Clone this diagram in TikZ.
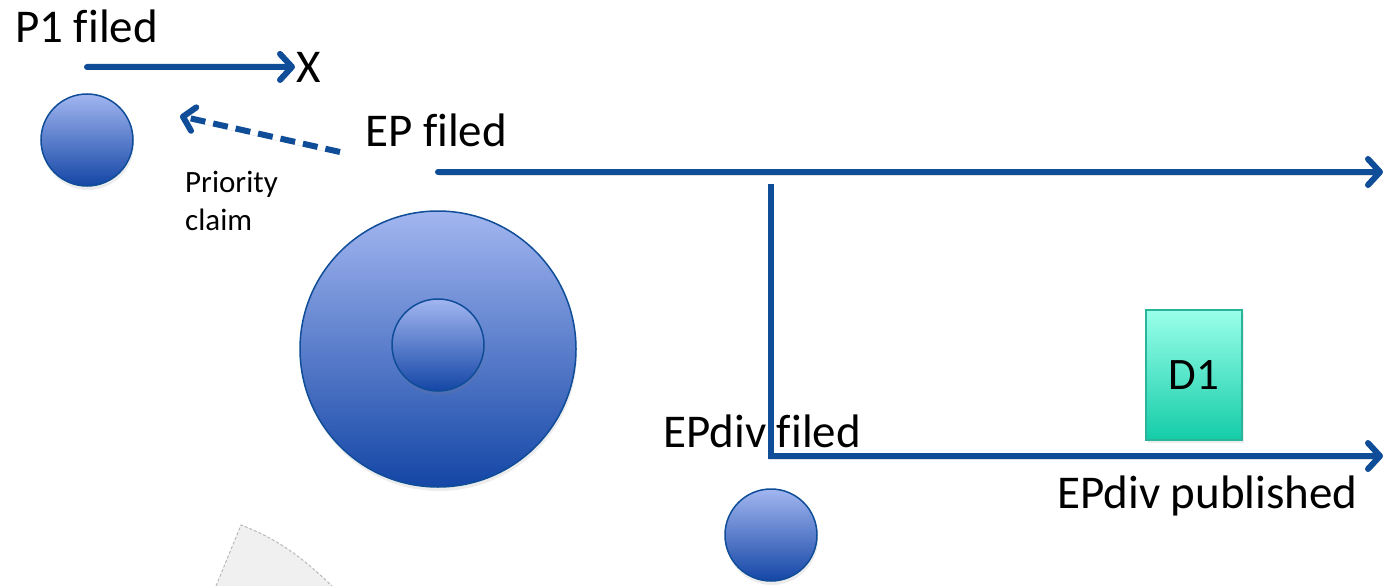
\documentclass[tikz,border=0pt]{standalone}
\usepackage{fontspec}
\setmainfont{Carlito}[Ligatures=CommonOff]
\usetikzlibrary{arrows.meta,shadows}
\definecolor{lineblue}{HTML}{0F4D98}
\definecolor{circtop}{HTML}{A2B6F0}
\definecolor{circbot}{HTML}{1446A6}
\definecolor{dtop}{HTML}{9AFFEA}
\definecolor{dbot}{HTML}{14CCA8}
\definecolor{dborder}{HTML}{2AB59A}
\begin{document}
\begin{tikzpicture}[x=1pt,y=-1pt,
  lshadow/.style={preaction={draw=black, opacity=0.12, transform canvas={xshift=1pt,yshift=-3pt}}},
  conn/.style={draw=lineblue, line width=6pt, line cap=round, line join=round, lshadow,
    -{Straight Barb[length=12pt,width=26pt,round]}},
  dconn/.style={draw=lineblue, line width=6pt, dash pattern=on 15pt off 8pt, lshadow,
    -{Straight Barb[length=11pt,width=24pt,round]}},
  plainline/.style={draw=lineblue, line width=6pt, lshadow},
  ball/.style={circle, draw=lineblue, line width=1.5pt, top color=circtop, bottom color=circbot,
    inner sep=0pt, drop shadow={opacity=0.15, shadow xshift=1pt, shadow yshift=-4pt}},
  doc/.style={rectangle, draw=dborder, line width=1.2pt, top color=dtop, bottom color=dbot,
    minimum width=96pt, minimum height=130pt, inner sep=0pt, font=\fontsize{45}{54}\selectfont,
    drop shadow={opacity=0.15, shadow xshift=2pt, shadow yshift=-3pt}},
  big/.style={font=\fontsize{47}{56}\selectfont, inner sep=0pt},
  small/.style={font=\fontsize{31}{38}\selectfont, inner sep=0pt}
]
\useasboundingbox (0,0) rectangle (1387,586);

% faint gray shape at bottom left
\fill[gray!12] (241,525) -- (216,586) -- (332,586) .. controls (300,555) and (275,538) .. (241,525) -- cycle;
\draw[gray!55, line width=1pt, dash pattern=on 3pt off 2pt] (216,586) -- (241,525) .. controls (275,538) and (300,555) .. (332,586);

% circles
\node[ball, minimum size=92pt] (p1c) at (87,140) {};
\node[ball, minimum size=276pt] (epc) at (438,349) {};
\node[ball, minimum size=92pt] (epin) at (438,345) {};
\node[ball, minimum size=92pt] (divc) at (771,535) {};

% texts
\node[big, anchor=base west] (p1) at (15,43) {P1 filed};
\node[big, anchor=base west] (x) at (296,82) {X};
\node[big, anchor=base west] (ep) at (365,146) {EP filed};
\node[small, anchor=base west] (prio) at (185,192) {Priority};
\node[small, anchor=base west] (claim) at (185,230) {claim};
\node[big, anchor=base west] (epdiv) at (663,447) {EPdiv filed};
\node[big, anchor=base west] (pub) at (1057,508) {EPdiv published};

% D1
\node[doc] (d1) at (1194,375) {D1};

% connectors
\coordinate (p1s) at (87,67);
\draw[conn] (p1s) -- ([xshift=-1pt]x.west);
\coordinate (dstart) at (340,152);
\coordinate (dend) at (180,116);
\draw[dconn] (dstart) -- (dend);
\coordinate (eps) at (438,172);
\coordinate (epe) at (1383,172);
\draw[conn] (eps) -- (epe);
\coordinate (vtop) at (771,184);
\coordinate (corner) at (771,456);
\coordinate (dive) at (1383,456);
\draw[plainline] (vtop) -- (corner);
\draw[conn, line cap=butt] ([xshift=-3pt]corner) -- (dive);
\end{tikzpicture}
\end{document}
